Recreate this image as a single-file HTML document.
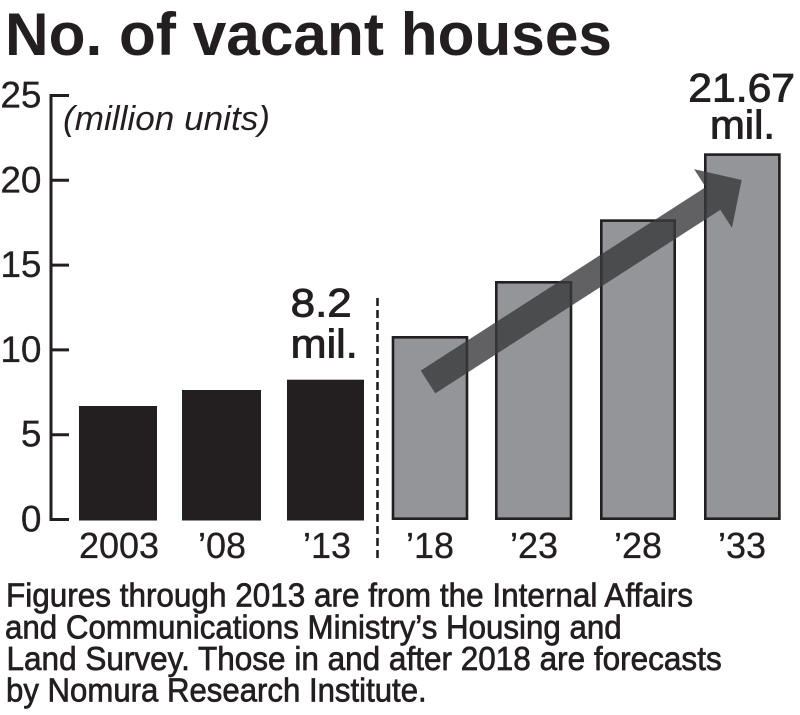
<!DOCTYPE html>
<html>
<head>
<meta charset="utf-8">
<style>
  html, body { margin: 0; padding: 0; background: #ffffff; }
  body { width: 800px; height: 715px; overflow: hidden; }
  svg { display: block; }
  text { font-family: "Liberation Sans", Arial, Helvetica, sans-serif; fill: #231f20; }
</style>
</head>
<body>
<svg width="800" height="715" viewBox="0 0 800 715" xmlns="http://www.w3.org/2000/svg">
  <rect x="0" y="0" width="800" height="715" fill="#ffffff"/>

  <!-- Title -->
  <text x="5" y="55" font-size="60" font-weight="bold" textLength="607" lengthAdjust="spacingAndGlyphs">No. of vacant houses</text>

  <!-- Y axis -->
  <line x1="51" y1="94" x2="51" y2="521" stroke="#231f20" stroke-width="3"/>
  <g stroke="#231f20" stroke-width="3">
    <line x1="49.5" y1="95.5" x2="69" y2="95.5"/>
    <line x1="51" y1="180.3" x2="69" y2="180.3"/>
    <line x1="51" y1="265.1" x2="69" y2="265.1"/>
    <line x1="51" y1="349.9" x2="69" y2="349.9"/>
    <line x1="51" y1="434.7" x2="69" y2="434.7"/>
    <line x1="49.5" y1="519.5" x2="69" y2="519.5"/>
  </g>
  <g font-size="37" text-anchor="end" stroke="#231f20" stroke-width="0.3">
    <text x="41.5" y="107.5">25</text>
    <text x="41.5" y="192.3">20</text>
    <text x="41.5" y="277.1">15</text>
    <text x="41.5" y="361.9">10</text>
    <text x="41.5" y="446.7">5</text>
    <text x="41.5" y="531.5">0</text>
  </g>

  <!-- unit label -->
  <text x="63" y="130" font-size="34" font-style="italic" textLength="207" lengthAdjust="spacingAndGlyphs">(million units)</text>

  <!-- Black bars -->
  <g fill="#231f20">
    <rect x="79" y="406" width="78" height="114.5"/>
    <rect x="182" y="390" width="79" height="130.5"/>
    <rect x="287" y="379.7" width="77" height="140.8"/>
  </g>

  <!-- Dashed divider -->
  <line x1="377.5" y1="298" x2="377.5" y2="561" stroke="#231f20" stroke-width="2.6" stroke-dasharray="8,4"/>

  <!-- Gray bars -->
  <g fill="#939598" stroke="#231f20" stroke-width="2.6">
    <rect x="393" y="337.3" width="74" height="181.4"/>
    <rect x="496.3" y="282.3" width="74.7" height="236.4"/>
    <rect x="601.3" y="220.6" width="73.4" height="298.1"/>
    <rect x="705.3" y="154.6" width="74.1" height="364.1"/>
  </g>

  <!-- Arrow -->
  <polygon points="420.7,370.65 705.7,187.15 694.05,169.07 741.7,180 731.95,227.93 720.3,209.85 435.3,393.35"
           fill="#3a3a3c" fill-opacity="0.8"/>

  <!-- Value labels -->
  <g stroke="#231f20" stroke-width="0.9">
    <text x="290.7" y="316.7" font-size="40" textLength="61" lengthAdjust="spacingAndGlyphs">8.2</text>
    <text x="290.7" y="357.3" font-size="40" textLength="67" lengthAdjust="spacingAndGlyphs">mil.</text>
    <text x="688.3" y="101.7" font-size="40" textLength="106.7" lengthAdjust="spacingAndGlyphs">21.67</text>
    <text x="710" y="138.3" font-size="40" textLength="65" lengthAdjust="spacingAndGlyphs">mil.</text>
  </g>

  <!-- X labels -->
  <g font-size="36" text-anchor="middle" stroke="#231f20" stroke-width="0.3">
    <text x="119" y="558">2003</text>
    <text x="222" y="558">’08</text>
    <text x="327" y="558">’13</text>
    <text x="430" y="558">’18</text>
    <text x="534" y="558">’23</text>
    <text x="638" y="558">’28</text>
    <text x="742" y="558">’33</text>
  </g>

  <!-- Footnote -->
  <g font-size="33" stroke="#231f20" stroke-width="0.7">
    <text x="6" y="606.7" textLength="687" lengthAdjust="spacingAndGlyphs">Figures through 2013 are from the Internal Affairs</text>
    <text x="5" y="638.3" textLength="616.7" lengthAdjust="spacingAndGlyphs">and Communications Ministry’s Housing and</text>
    <text x="6.5" y="670" textLength="715.2" lengthAdjust="spacingAndGlyphs">Land Survey. Those in and after 2018 are forecasts</text>
    <text x="6" y="701.7" textLength="420.7" lengthAdjust="spacingAndGlyphs">by Nomura Research Institute.</text>
  </g>
</svg>
</body>
</html>
